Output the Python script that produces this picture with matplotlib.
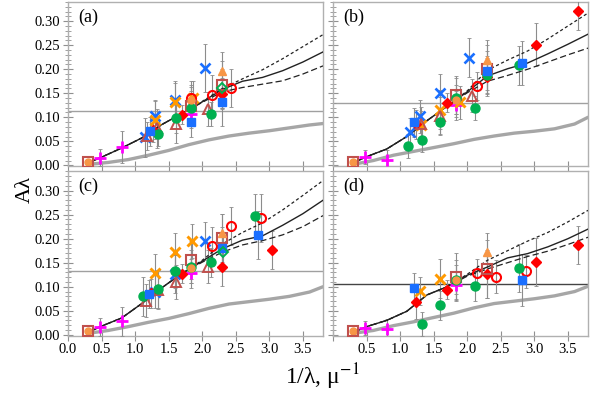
import matplotlib
matplotlib.use("Agg")
import matplotlib.pyplot as plt
from matplotlib.ticker import MultipleLocator

plt.rcParams['font.family'] = ['Liberation Serif', 'DejaVu Serif']
plt.rcParams['mathtext.fontset'] = 'stix'

# ---------------- data ----------------
# model curves (common x grid)
curve_x = [0.3, 0.5, 0.8, 1.1, 1.4, 1.7, 2.0, 2.3, 2.6, 2.9, 3.2, 3.5, 3.8]
a_mid = [0.005, 0.017, 0.036, 0.057, 0.085, 0.108, 0.132, 0.158, 0.175, 0.183, 0.197, 0.215, 0.236]
a_up = [0.005, 0.017, 0.036, 0.057, 0.085, 0.108, 0.133, 0.160, 0.180, 0.199, 0.222, 0.247, 0.272]
a_lo = [0.005, 0.017, 0.036, 0.057, 0.085, 0.108, 0.131, 0.153, 0.162, 0.169, 0.176, 0.190, 0.207]
b_mid = [0.005, 0.018, 0.034, 0.060, 0.093, 0.123, 0.153, 0.186, 0.201, 0.213, 0.232, 0.252, 0.273]
b_up = [0.005, 0.018, 0.034, 0.060, 0.093, 0.123, 0.155, 0.198, 0.219, 0.238, 0.263, 0.290, 0.317]
b_lo = [0.005, 0.018, 0.034, 0.060, 0.093, 0.123, 0.151, 0.175, 0.187, 0.200, 0.215, 0.230, 0.244]
c_mid = [0.005, 0.018, 0.035, 0.065, 0.098, 0.128, 0.153, 0.179, 0.197, 0.206, 0.228, 0.252, 0.280]
c_up = [0.005, 0.018, 0.035, 0.065, 0.098, 0.128, 0.155, 0.189, 0.213, 0.233, 0.260, 0.290, 0.321]
c_lo = [0.005, 0.018, 0.035, 0.065, 0.098, 0.128, 0.151, 0.172, 0.187, 0.196, 0.208, 0.225, 0.248]
d_mid = [0.005, 0.017, 0.030, 0.049, 0.083, 0.100, 0.124, 0.141, 0.160, 0.169, 0.183, 0.200, 0.220]
d_up = [0.005, 0.017, 0.030, 0.049, 0.083, 0.100, 0.126, 0.155, 0.175, 0.195, 0.213, 0.235, 0.259]
d_lo = [0.005, 0.017, 0.030, 0.049, 0.083, 0.100, 0.122, 0.137, 0.150, 0.163, 0.174, 0.188, 0.203]

gray_x = [0.3, 0.6, 0.9, 1.2, 1.5, 1.8, 2.1, 2.4, 2.7, 3.0, 3.3, 3.6, 3.8]
a_gray = [0.002, 0.006, 0.012, 0.021, 0.031, 0.043, 0.053, 0.061, 0.067, 0.072, 0.078, 0.084, 0.087]
b_gray = [0.002, 0.010, 0.021, 0.029, 0.037, 0.045, 0.054, 0.061, 0.067, 0.071, 0.076, 0.086, 0.100]
c_gray = [0.003, 0.009, 0.017, 0.026, 0.034, 0.044, 0.055, 0.064, 0.069, 0.074, 0.080, 0.089, 0.100]
d_gray = [0.003, 0.009, 0.019, 0.027, 0.036, 0.045, 0.056, 0.065, 0.070, 0.075, 0.081, 0.090, 0.101]

hline_levels = [0.114, 0.130, 0.133, 0.1065]

# observations: x, y, error, symbol-series code
a_x = [0.30, 0.30, 0.47, 0.80, 1.83, 1.15, 1.30, 1.60, 2.04, 1.29, 1.60, 1.86, 1.26, 1.70, 2.30,
       1.83, 2.15, 2.43, 1.83, 2.30, 1.18, 1.33, 1.61, 2.09, 2.30, 1.34, 1.61, 1.83, 2.13,
       1.22, 1.84, 2.30, 2.30, 1.83]
a_y = [0.007, 0.007, 0.016, 0.038, 0.107, 0.058, 0.102, 0.136, 0.203, 0.094, 0.131, 0.141, 0.073, 0.105, 0.149,
       0.140, 0.147, 0.161, 0.124, 0.168, 0.061, 0.077, 0.086, 0.117, 0.196, 0.066, 0.098, 0.120, 0.107,
       0.071, 0.090, 0.132, 0.160, 0.137]
a_err = [0.003, 0.003, 0.018, 0.033, 0.030, 0.040, 0.035, 0.040, 0.050, 0.040, 0.040, 0.035, 0.025, 0.020, 0.030,
         0.035, 0.040, 0.040, 0.040, 0.050, 0.030, 0.040, 0.040, 0.035, 0.040, 0.025, 0.030, 0.035, 0.025,
         0.030, 0.030, 0.050, 0.040, 0.030]
a_sym = ['CO', 'SB', 'P', 'P', 'P', 'XB', 'XB', 'XB', 'XB', 'XO', 'XO', 'XO', 'DR', 'DR', 'DR',
         'OR', 'OR', 'OR', 'SB', 'SB', 'TB', 'TB', 'TB', 'TB', 'TO', 'CG', 'CG', 'CG', 'CG',
         'SQ', 'SQ', 'SQ', 'DG', 'CO']

b_x = [0.30, 0.30, 0.47, 0.80, 1.83, 1.14, 1.29, 1.59, 2.03, 1.31, 1.59, 1.89, 1.24, 1.70, 2.29, 3.03, 3.65,
       2.14, 1.83, 2.29, 1.31, 1.60, 2.07, 2.29, 1.12, 1.33, 1.60, 1.83, 2.12, 2.29, 2.77,
       1.21, 2.29, 2.82, 1.83]
b_y = [0.007, 0.007, 0.017, 0.012, 0.125, 0.069, 0.102, 0.151, 0.224, 0.083, 0.116, 0.131, 0.085, 0.130, 0.184, 0.251, 0.322,
       0.165, 0.146, 0.200, 0.086, 0.103, 0.145, 0.220, 0.040, 0.052, 0.090, 0.141, 0.120, 0.188, 0.208,
       0.090, 0.197, 0.213, 0.137]
b_err = [0.003, 0.003, 0.015, 0.020, 0.030, 0.030, 0.035, 0.040, 0.040, 0.030, 0.040, 0.035, 0.030, 0.020, 0.040, 0.045, 0.040,
         0.030, 0.040, 0.050, 0.035, 0.040, 0.035, 0.040, 0.025, 0.025, 0.025, 0.040, 0.025, 0.040, 0.040,
         0.030, 0.040, 0.045, 0.030]
b_sym = ['CO', 'SB', 'P', 'P', 'P', 'XB', 'XB', 'XB', 'XB', 'XO', 'XO', 'XO', 'DR', 'DR', 'DR', 'DR', 'DR',
         'OR', 'SB', 'SB', 'TB', 'TB', 'TB', 'TO', 'CG', 'CG', 'CG', 'CG', 'CG', 'CG', 'CG',
         'SQ', 'SQ', 'SQ', 'CO']

c_x = [0.30, 0.30, 0.47, 0.80, 1.83, 1.29, 1.60, 2.04, 1.30, 1.60, 1.85, 1.23, 1.70, 2.30, 3.04,
       2.15, 2.43, 2.88, 1.83, 2.30, 1.16, 1.34, 1.61, 2.09, 2.30, 1.12, 1.34, 1.60, 1.83, 2.13, 2.78,
       1.21, 2.30, 2.83, 2.31, 1.83]
c_y = [0.007, 0.007, 0.016, 0.028, 0.128, 0.090, 0.127, 0.195, 0.128, 0.172, 0.195, 0.086, 0.127, 0.141, 0.176,
       0.184, 0.226, 0.244, 0.156, 0.201, 0.071, 0.094, 0.110, 0.142, 0.212, 0.080, 0.095, 0.132, 0.142, 0.151, 0.248,
       0.085, 0.180, 0.207, 0.173, 0.138]
c_err = [0.003, 0.003, 0.018, 0.030, 0.030, 0.035, 0.040, 0.040, 0.040, 0.040, 0.035, 0.030, 0.020, 0.040, 0.040,
         0.040, 0.040, 0.050, 0.040, 0.050, 0.035, 0.040, 0.035, 0.035, 0.040, 0.040, 0.040, 0.035, 0.035, 0.030, 0.045,
         0.030, 0.045, 0.050, 0.040, 0.030]
c_sym = ['CO', 'SB', 'P', 'P', 'P', 'XB', 'XB', 'XB', 'XO', 'XO', 'XO', 'DR', 'DR', 'DR', 'DR',
         'OR', 'OR', 'OR', 'SB', 'SB', 'TB', 'TB', 'TB', 'TB', 'TO', 'CG', 'CG', 'CG', 'CG', 'CG', 'CG',
         'SQ', 'SQ', 'SQ', 'DG', 'CO']

d_x = [0.30, 0.30, 0.47, 0.80, 1.83, 1.29, 1.59, 1.24, 1.70, 2.29, 3.03, 3.65,
       2.14, 2.43, 2.87, 1.83, 2.29, 2.29, 1.33, 1.60, 1.83, 2.11, 2.77, 1.21, 2.82, 1.83]
d_y = [0.007, 0.007, 0.014, 0.012, 0.103, 0.091, 0.117, 0.068, 0.094, 0.127, 0.151, 0.187,
       0.128, 0.121, 0.132, 0.120, 0.137, 0.172, 0.023, 0.061, 0.115, 0.101, 0.139, 0.098, 0.114, 0.115]
d_err = [0.003, 0.003, 0.015, 0.020, 0.030, 0.030, 0.040, 0.035, 0.020, 0.050, 0.050, 0.040,
         0.030, 0.035, 0.035, 0.050, 0.060, 0.040, 0.025, 0.030, 0.040, 0.030, 0.050, 0.030, 0.055, 0.030]
d_sym = ['CO', 'SB', 'P', 'P', 'P', 'XO', 'XO', 'DR', 'DR', 'DR', 'DR', 'DR',
         'OR', 'OR', 'OR', 'SB', 'SB', 'TO', 'CG', 'CG', 'CG', 'CG', 'CG', 'SQ', 'SQ', 'CO']

panel_labels = ['(a)', '(b)', '(c)', '(d)']
x_ticks = [0.0, 0.5, 1.0, 1.5, 2.0, 2.5, 3.0, 3.5]
y_ticks = [0.00, 0.05, 0.10, 0.15, 0.20, 0.25, 0.30]

# ---------------- styles ----------------
STY = {
    'P':  dict(marker='+', color='#ff00ff', mfc='#ff00ff', ms=9, mew=2.0),
    'XB': dict(marker='x', color='#1a6fff', mfc='#1a6fff', ms=6.5, mew=1.9),
    'XO': dict(marker='x', color='#ff9900', mfc='#ff9900', ms=7.5, mew=2.1),
    'DR': dict(marker='D', color='#ff0000', mfc='#ff0000', ms=5.5, mew=1.0),
    'OR': dict(marker='o', color='#ff0000', mfc='none', ms=6.5, mew=1.5),
    'SB': dict(marker='s', color='#c0504d', mfc='none', ms=6.5, mew=1.5),
    'TB': dict(marker='^', color='#c0504d', mfc='none', ms=6.5, mew=1.4),
    'TO': dict(marker='^', color='#f79646', mfc='#f79646', ms=5.5, mew=1.0),
    'CG': dict(marker='o', color='#00b050', mfc='#00b050', ms=6.5, mew=1.0),
    'SQ': dict(marker='s', color='#1a6fff', mfc='#1a6fff', ms=5.5, mew=1.0),
    'DG': dict(marker='D', color='#00b050', mfc='none', ms=5.5, mew=1.4),
    'CO': dict(marker='o', color='#f79646', mfc='#f79646', ms=5, mew=1.0),
}

fig = plt.figure(figsize=(5.91, 3.95), dpi=100)
W, H = 0.4315, 0.416
positions = [[0.115, 0.579, W, H], [0.5635, 0.579, W, H],
             [0.115, 0.150, W, H], [0.5635, 0.150, W, H]]
panels = [
    (a_x, a_y, a_err, a_sym, a_mid, a_up, a_lo, a_gray),
    (b_x, b_y, b_err, b_sym, b_mid, b_up, b_lo, b_gray),
    (c_x, c_y, c_err, c_sym, c_mid, c_up, c_lo, c_gray),
    (d_x, d_y, d_err, d_sym, d_mid, d_up, d_lo, d_gray),
]
spine_col = '#b0b0b0'
for i, (px, py, pe, ps, pm, pu, pl, pg) in enumerate(panels):
    ax = fig.add_axes(positions[i])
    ax.set_xlim(0, 3.8)
    ax.set_ylim(-0.002, 0.34)
    hcol = '#444444' if i == 3 else '#a0a0a0'
    ax.axhline(hline_levels[i], color=hcol, lw=1.0, zorder=1)
    ax.plot(gray_x, pg, color='#a6a6a6', lw=2.4, zorder=2, solid_capstyle='round')
    ax.errorbar(px, py, yerr=pe, fmt='none', ecolor='#8c8c8c', elinewidth=0.8,
                capsize=1.2, capthick=0.6, zorder=3)
    ax.plot(curve_x, pm, color='#222222', lw=1.0, zorder=4)
    ax.plot(curve_x, pu, color='#222222', lw=0.9, ls=(0, (2.5, 2)), zorder=4)
    ax.plot(curve_x, pl, color='#222222', lw=0.9, ls=(0, (5, 2.5)), zorder=4)
    for xx, yy, ss in zip(px, py, ps):
        st = STY[ss]
        ax.plot([xx], [yy], ls='none', marker=st['marker'], color=st['color'],
                mfc=st['mfc'], mec=st['color'], ms=st['ms'], mew=st['mew'], zorder=5)
    ax.text(0.04, 0.96, panel_labels[i], transform=ax.transAxes, ha='left', va='top',
            fontsize=13)
    for s in ax.spines.values():
        s.set_color(spine_col)
        s.set_linewidth(1.0)
    ax.set_xticks(x_ticks)
    ax.set_yticks(y_ticks)
    ax.yaxis.set_minor_locator(MultipleLocator(0.01))
    ax.tick_params(axis='both', which='major', direction='inout', length=7,
                   color='#909090', labelsize=10.5, pad=2)
    ax.tick_params(axis='y', which='minor', direction='inout', length=4, color='#909090')
    if i in (0, 2):
        ax.set_yticklabels(['%.2f' % v for v in y_ticks])
    else:
        ax.set_yticklabels([])
    if i == 2:
        ax.set_xticklabels(['%.1f' % v for v in x_ticks])
    elif i == 3:
        ax.set_xticklabels([''] + ['%.1f' % v for v in x_ticks[1:]])
    else:
        ax.set_xticklabels([])

fig.text(0.042, 0.52, 'Aλ', rotation=90, ha='center', va='center', fontsize=16)
fig.text(0.545, 0.045, r'1/λ, μ$^{-1}$', ha='center', va='center', fontsize=17)

fig.savefig('out.png', dpi=100)
